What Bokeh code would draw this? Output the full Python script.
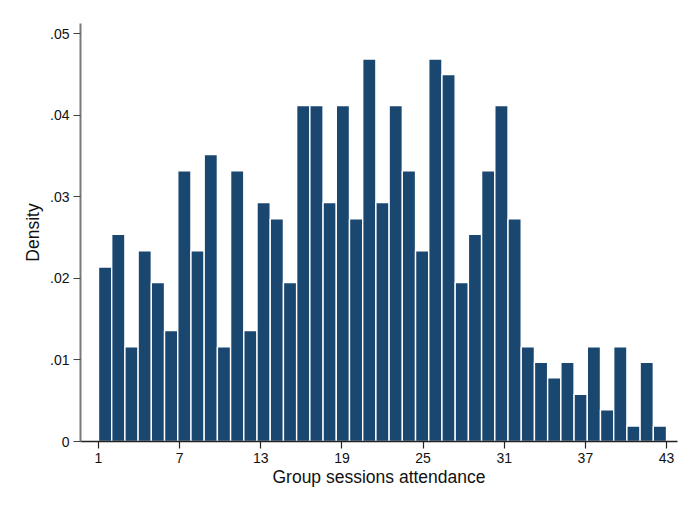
from bokeh.plotting import figure
from bokeh.models import Range1d, FixedTicker, CustomJSTickFormatter
from bokeh.embed import file_html
from bokeh.resources import INLINE

# Histogram of group-session attendance: 43 equal bins spanning 1..43
x_min, x_max = 1, 43
n_bins = 43
density = [
    0.0214, 0.0254, 0.0116, 0.0234, 0.0195, 0.0136, 0.0332, 0.0234, 0.0352, 0.0116,
    0.0332, 0.0136, 0.0293, 0.0273, 0.0195, 0.0412, 0.0412, 0.0293, 0.0412, 0.0273,
    0.0469, 0.0293, 0.0412, 0.0332, 0.0234, 0.0469, 0.0450, 0.0195, 0.0254, 0.0332,
    0.0412, 0.0273, 0.0116, 0.0097, 0.0078, 0.0097, 0.0058, 0.0116, 0.0039, 0.0116,
    0.0019, 0.0097, 0.0019,
]
x_ticks = [1, 7, 13, 19, 25, 31, 37, 43]
y_ticks = [0, 0.01, 0.02, 0.03, 0.04, 0.05]

bin_w = (x_max - x_min) / n_bins
lefts = [x_min + i * bin_w for i in range(n_bins)]
rights = [l + bin_w for l in lefts]

FONT = "Liberation Sans"
NAVY = "#1a476f"

p = figure(
    width=688, height=508,
    x_range=Range1d(-0.33, 43.81), y_range=Range1d(0, 0.05126),
    output_backend="svg", toolbar_location=None,
    min_border_left=80, min_border_right=11, min_border_top=23, min_border_bottom=67,
)
p.background_fill_color = "white"
p.border_fill_color = "white"
p.outline_line_color = None
p.grid.visible = False

p.quad(left=lefts, right=rights, bottom=0, top=density,
       fill_color=NAVY, line_color="#ffffff", line_width=1.4)

# x axis
xa = p.xaxis[0]
xa.ticker = FixedTicker(ticks=x_ticks)
xa.axis_label = "Group sessions attendance"
xa.axis_line_color = "#222222"
xa.axis_line_width = 1.4
xa.major_tick_line_color = "#222222"
xa.major_tick_line_width = 1.2
xa.major_tick_in = 0
xa.major_tick_out = 7
xa.minor_tick_line_color = None
xa.major_label_standoff = 4
xa.axis_label_standoff = 1

# y axis
ya = p.yaxis[0]
ya.ticker = FixedTicker(ticks=y_ticks)
ya.formatter = CustomJSTickFormatter(
    code='return tick == 0 ? "0" : tick.toFixed(2).replace(/^0/, "");')
ya.axis_label = "Density"
ya.axis_line_color = "#7a7a7a"
ya.axis_line_width = 2
ya.major_tick_line_color = "#444444"
ya.major_tick_line_width = 1.2
ya.major_tick_in = 0
ya.major_tick_out = 7
ya.minor_tick_line_color = None
ya.major_label_standoff = 4
ya.axis_label_standoff = 4

for ax in (xa, ya):
    ax.major_label_text_font = FONT
    ax.major_label_text_font_size = "14px"
    ax.major_label_text_color = "#111111"
    ax.axis_label_text_font = FONT
    ax.axis_label_text_font_size = "17.5px"
    ax.axis_label_text_font_style = "normal"
    ax.axis_label_text_color = "#111111"

open("out.html", "w").write(file_html(p, INLINE))
